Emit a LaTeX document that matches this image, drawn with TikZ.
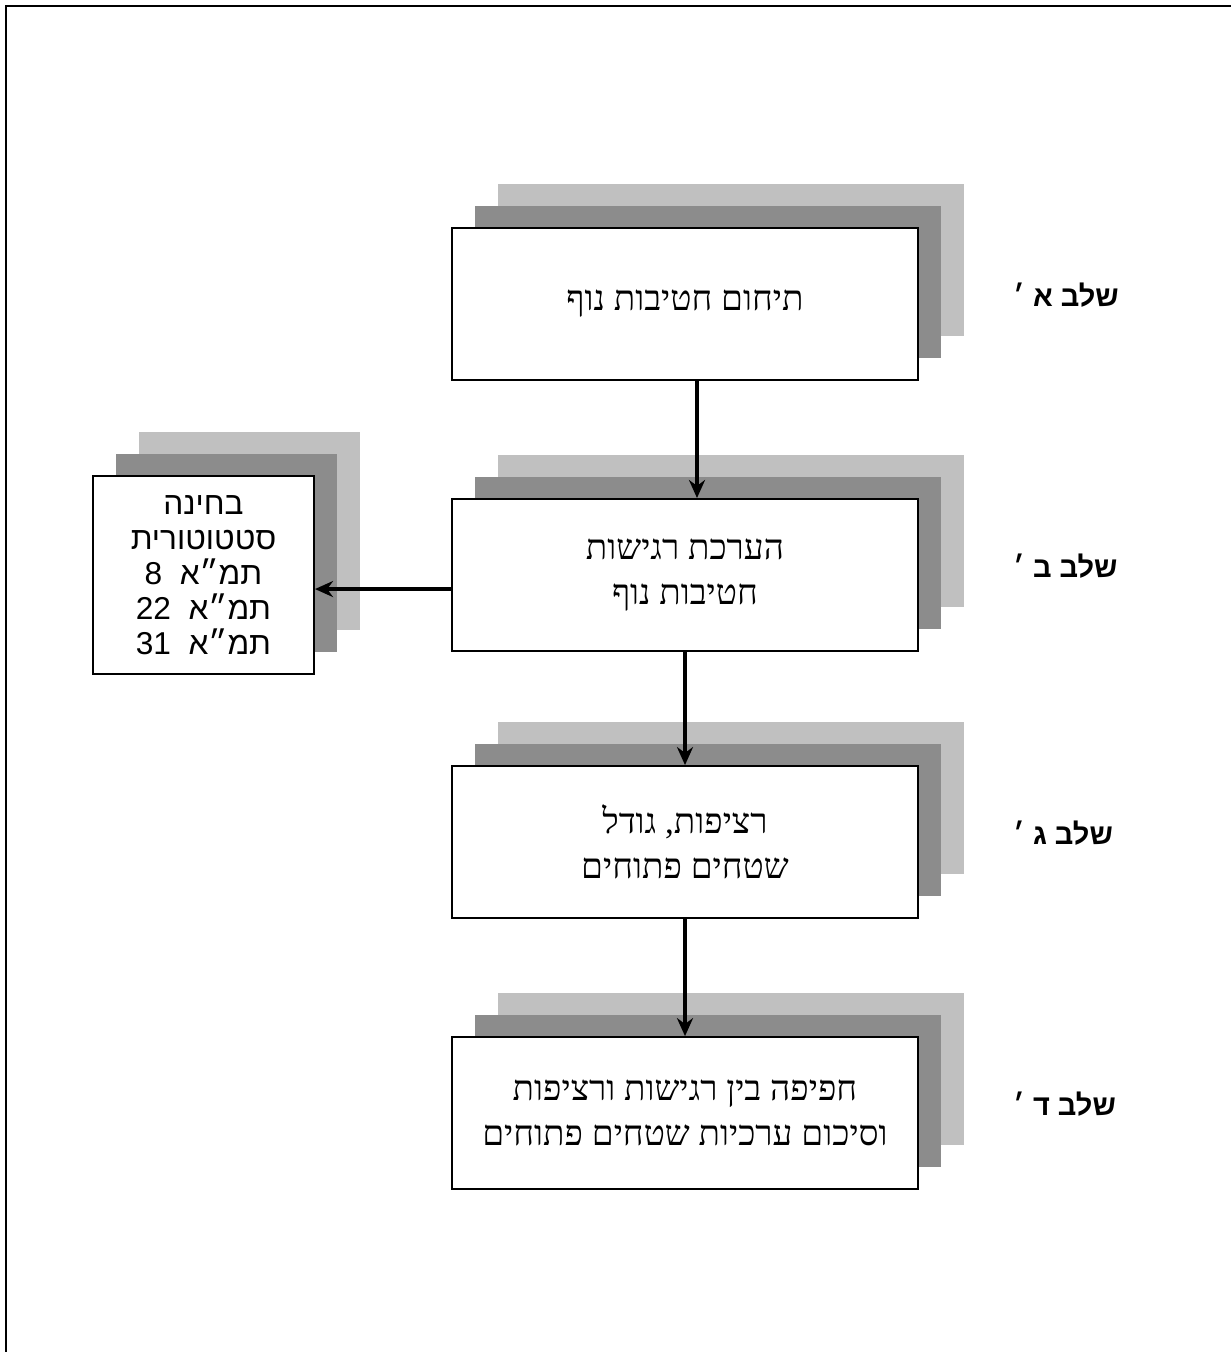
\documentclass[tikz,border=0pt]{standalone}
\usepackage{fontspec}
\usepackage{tikz}
\usetikzlibrary{positioning, shadows, arrows.meta}
\TeXXeTstate=1
\newfontfamily\hebserif[Script=Hebrew]{Liberation Serif}
\newfontfamily\hebsans[Script=Hebrew]{Liberation Sans}
\newcommand{\hebline}[1]{\beginR #1\endR}
\definecolor{shadelight}{RGB}{192,192,192}
\definecolor{shadedark}{RGB}{140,140,140}

\begin{document}
\begin{tikzpicture}[x=0.02cm, y=-0.02cm,
    flow/.style={line width=2.1pt, -{Stealth[length=0.36cm, width=0.32cm]}},
    stagebox/.style={draw, line width=1.2pt, fill=white, inner sep=0pt,
        minimum width=9.32cm, minimum height=3.04cm, align=center,
        font=\hebserif\fontsize{20}{25.5}\selectfont,
        copy shadow={shadow xshift=0.92cm, shadow yshift=0.88cm, fill=shadelight, draw=none},
        copy shadow={shadow xshift=0.46cm, shadow yshift=0.44cm, fill=shadedark, draw=none}},
    sidebox/.style={stagebox, minimum width=4.42cm, minimum height=3.96cm,
        font=\hebsans\fontsize{18}{20}\selectfont},
    stagelabel/.style={anchor=west, font=\hebsans\bfseries\fontsize{16.5}{20}\selectfont}]
    \useasboundingbox (0,0) rectangle (1231,1352);

    % Page frame
    \draw[line width=1.1pt] (6,1352) -- (6,6) -- (1231,6);

    % Stage boxes
    \node[stagebox] (b1) at (685,304) {\hebline{תיחום חטיבות נוף}};
    \node[stagebox, below=2.34cm of b1] (b2) {\hebline{הערכת רגישות}\\ \hebline{חטיבות נוף}};
    \node[stagebox, below=2.26cm of b2] (b3) {\hebline{רציפות, גודל}\\ \hebline{שטחים פתוחים}};
    \node[stagebox, below=2.34cm of b3] (b4) {\hebline{חפיפה בין רגישות ורציפות}\\ \hebline{וסיכום ערכיות שטחים פתוחים}};

    % Statutory check
    \node[sidebox, left=2.72cm of b2] (side) {\hebline{בחינה}\\ \hebline{סטטוטורית}\\
        \hebline{תמ״א\ \ \beginL 8\endL}\\ \hebline{תמ״א\ \ \beginL 22\endL}\\ \hebline{תמ״א\ \ \beginL 31\endL}};

    % Stage labels
    \foreach \b/\t in {b1/א, b2/ב, b3/ג, b4/ד} {
        \node[stagelabel, right=1.76cm of \b, yshift=0.18cm] (lbl\b) {\hebline{שלב \t\ ׳}};
    }

    % Arrows
    \draw[flow] ([xshift=0.24cm]b1.south) -- ([xshift=0.24cm]b2.north);
    \draw[flow] (b2.south) -- (b3.north);
    \draw[flow] (b3.south) -- (b4.north);
    \draw[flow] ([yshift=-0.28cm]b2.west) -- ([yshift=-0.28cm]side.east);
\end{tikzpicture}
\end{document}
